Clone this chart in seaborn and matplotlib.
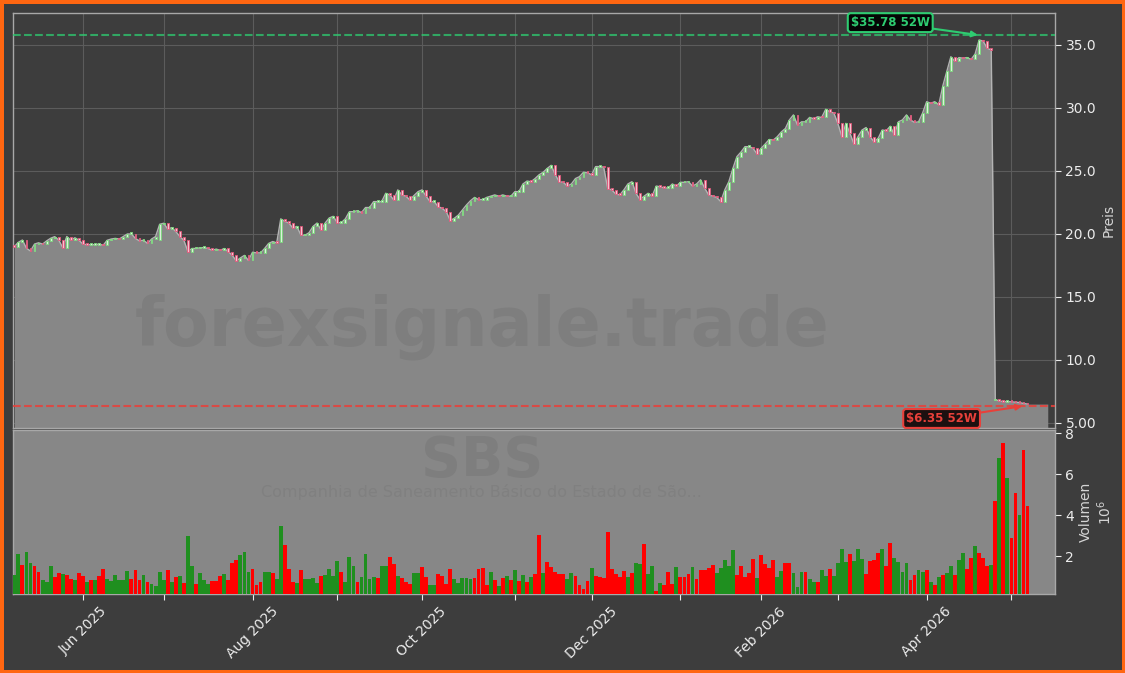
import numpy as np
import pandas as pd
import matplotlib
matplotlib.use("Agg")
import matplotlib.pyplot as plt
import seaborn as sns

# ── Chart text ───────────────────────────────────────────────────────────────
TICKER    = "SBS"
COMPANY   = "Companhia de Saneamento Básico do Estado de São..."
WATERMARK = "forexsignale.trade"

# ── Trading calendar (NYSE days, May 2025 – May 2026) ────────────────────────
START, END = "2025-05-07", "2026-05-07"
HOLIDAYS = ["2025-05-26", "2025-06-19", "2025-07-04", "2025-09-01", "2025-11-27",
            "2025-12-25", "2026-01-01", "2026-01-19", "2026-02-16", "2026-04-03"]

# ── Daily prices (USD) ───────────────────────────────────────────────────────
close = [
    19.0, 19.34, 19.52, 18.87, 18.65, 19.2, 19.3, 19.2, 19.45, 19.66,
    19.79, 19.52, 18.91, 19.8, 19.5, 19.7, 19.5, 19.2, 19.15, 19.15,
    19.15, 19.2, 19.1, 19.5, 19.6, 19.65, 19.6, 19.8, 20.0, 20.0,
    19.65, 19.45, 19.5, 19.25, 19.6, 19.8, 20.77, 20.85, 20.4, 20.5,
    20.2, 19.8, 19.5, 18.6, 18.85, 18.85, 18.9, 18.92, 18.85, 18.7,
    18.8, 18.7, 18.85, 18.6, 18.3, 17.86, 18.1, 18.3, 17.9, 18.55,
    18.5, 18.5, 18.85, 19.25, 19.4, 19.3, 21.2, 21.0, 20.87, 20.47,
    20.6, 19.9, 19.9, 20.1, 20.6, 20.87, 20.3, 20.87, 21.27, 21.4,
    20.9, 20.9, 21.2, 21.77, 21.77, 21.85, 21.7, 22.1, 22.1, 22.57,
    22.57, 22.57, 23.23, 23.1, 22.7, 23.5, 23.1, 23.0, 22.7, 23.05,
    23.36, 23.5, 23.0, 22.57, 22.57, 22.17, 22.03, 21.77, 21.06, 21.25,
    21.5, 21.9, 22.3, 22.64, 22.9, 22.73, 22.73, 22.9, 23.0, 23.1,
    23.0, 23.1, 23.0, 23.0, 23.36, 23.36, 23.97, 24.2, 24.15, 24.4,
    24.7, 24.9, 25.2, 25.45, 24.7, 24.15, 24.1, 23.8, 23.97, 24.4,
    24.55, 24.9, 24.85, 24.7, 25.35, 25.35, 25.3, 23.6, 23.5, 23.17,
    23.1, 23.5, 23.97, 24.15, 23.23, 22.73, 23.0, 23.23, 23.0, 23.8,
    23.75, 23.65, 23.65, 23.97, 23.8, 24.1, 24.1, 24.15, 23.8, 23.97,
    24.3, 23.65, 23.1, 23.0, 22.9, 22.57, 23.5, 24.15, 25.2, 26.14,
    26.5, 26.93, 26.93, 26.8, 26.35, 26.8, 27.14, 27.5, 27.45, 27.72,
    28.1, 28.37, 29.05, 29.45, 28.65, 28.9, 28.9, 29.25, 29.15, 29.3,
    29.25, 29.9, 29.7, 29.6, 28.78, 27.72, 28.78, 27.99, 27.14, 27.72,
    28.25, 28.45, 27.72, 27.3, 27.6, 28.25, 28.2, 28.55, 27.86, 28.9,
    29.05, 29.45, 29.05, 28.85, 28.9, 29.6, 30.5, 30.37, 30.5, 30.25,
    31.75, 32.9, 34.07, 33.7, 34.0, 33.95, 34.0, 33.85, 34.28, 35.4,
    35.3, 34.74, 34.6, 6.85, 6.75, 6.7, 6.7, 6.68, 6.65, 6.62,
    6.55, 6.5,
]
open_ = [
    19.1, 19.0, 19.34, 19.52, 18.87, 18.65, 19.2, 19.3, 19.2, 19.45,
    19.66, 19.79, 19.52, 18.91, 19.8, 19.5, 19.7, 19.5, 19.2, 19.15,
    19.15, 19.15, 19.2, 19.1, 19.5, 19.6, 19.65, 19.6, 19.8, 20.0,
    20.0, 19.65, 19.45, 19.5, 19.25, 19.6, 19.5, 20.77, 20.85, 20.4,
    20.5, 20.2, 19.8, 19.5, 18.6, 18.85, 18.85, 18.9, 18.92, 18.85,
    18.7, 18.8, 18.7, 18.85, 18.6, 18.3, 17.86, 18.1, 18.3, 17.9,
    18.55, 18.5, 18.5, 18.85, 19.25, 19.4, 19.4, 21.2, 21.0, 20.87,
    20.47, 20.6, 19.9, 19.9, 20.1, 20.6, 20.87, 20.3, 20.87, 21.27,
    21.4, 20.9, 20.9, 21.2, 21.77, 21.77, 21.85, 21.7, 22.1, 22.1,
    22.57, 22.57, 22.57, 23.23, 23.1, 22.7, 23.5, 23.1, 23.0, 22.7,
    23.05, 23.36, 23.5, 23.0, 22.57, 22.57, 22.17, 22.03, 21.77, 21.06,
    21.25, 21.5, 21.9, 22.3, 22.64, 22.9, 22.73, 22.73, 22.9, 23.0,
    23.1, 23.0, 23.1, 23.0, 23.0, 23.36, 23.36, 23.97, 24.2, 24.15,
    24.4, 24.7, 24.9, 25.2, 25.45, 24.7, 24.15, 24.1, 23.8, 23.97,
    24.4, 24.55, 24.9, 24.85, 24.7, 25.35, 25.35, 25.3, 23.6, 23.5,
    23.17, 23.1, 23.5, 23.97, 24.15, 23.23, 22.73, 23.0, 23.23, 23.0,
    23.8, 23.75, 23.65, 23.65, 23.97, 23.8, 24.1, 24.1, 24.15, 23.8,
    23.97, 24.3, 23.65, 23.1, 23.0, 22.9, 22.57, 23.5, 24.15, 25.2,
    26.14, 26.5, 26.93, 26.93, 26.8, 26.35, 26.8, 27.14, 27.5, 27.45,
    27.72, 28.1, 28.37, 29.05, 29.45, 28.65, 28.9, 28.9, 29.25, 29.15,
    29.3, 29.25, 29.9, 29.7, 29.6, 28.78, 27.72, 28.78, 27.99, 27.14,
    27.72, 28.25, 28.45, 27.72, 27.3, 27.6, 28.25, 28.2, 28.55, 27.86,
    28.9, 29.05, 29.45, 29.05, 28.85, 28.9, 29.6, 30.5, 30.37, 30.5,
    30.25, 31.75, 32.9, 34.07, 33.7, 34.0, 33.95, 34.0, 33.85, 34.28,
    35.4, 35.3, 34.74, 6.8, 6.85, 6.75, 6.7, 6.7, 6.68, 6.65,
    6.62, 6.55,
]

# ── Daily volume (millions of shares) and bar colour (G = up, R = down) ──────
volume_m = [
    1.07, 2.1, 1.56, 2.18, 1.66, 1.51, 1.23, 0.83, 0.75, 1.51,
    0.99, 1.15, 1.12, 1.07, 0.9, 0.85, 1.15, 1.02, 0.75, 0.83,
    0.85, 1.02, 1.37, 0.9, 0.77, 1.07, 0.83, 0.83, 1.28, 0.9,
    1.33, 0.85, 1.07, 0.72, 0.64, 0.56, 1.2, 0.85, 1.33, 0.72,
    0.98, 1.02, 0.67, 2.98, 1.51, 0.64, 1.15, 0.85, 0.64, 0.77,
    0.77, 1.02, 1.12, 0.85, 1.67, 1.8, 2.05, 2.18, 1.2, 1.37,
    0.59, 0.72, 1.2, 1.2, 1.15, 0.9, 3.46, 2.54, 1.37, 0.72,
    0.67, 1.33, 0.87, 0.87, 0.92, 0.67, 1.02, 1.07, 1.37, 1.02,
    1.75, 1.2, 0.72, 1.95, 1.51, 0.72, 0.98, 2.1, 0.9, 0.98,
    0.92, 1.51, 1.51, 1.95, 1.61, 1.02, 0.92, 0.72, 0.64, 1.17,
    1.17, 1.46, 0.98, 0.59, 0.59, 1.12, 1.02, 0.64, 1.37, 0.87,
    0.69, 0.92, 0.92, 0.87, 0.92, 1.37, 1.43, 0.59, 1.22, 0.83,
    0.54, 0.92, 1.02, 0.83, 1.33, 0.77, 1.07, 0.72, 0.98, 1.12,
    3.02, 1.17, 1.7, 1.46, 1.23, 1.12, 1.12, 0.87, 1.17, 1.02,
    0.59, 0.4, 0.77, 1.43, 1.02, 0.98, 0.95, 3.17, 1.37, 1.12,
    0.98, 1.28, 0.98, 1.17, 1.66, 1.61, 2.59, 1.12, 1.51, 0.3,
    0.69, 0.59, 1.22, 0.64, 1.46, 0.98, 0.98, 1.12, 1.46, 0.87,
    1.33, 1.33, 1.43, 1.56, 1.17, 1.43, 1.8, 1.51, 2.29, 1.07,
    1.51, 0.98, 1.17, 1.85, 0.92, 2.05, 1.61, 1.43, 1.8, 0.98,
    1.28, 1.66, 1.66, 1.17, 0.49, 1.2, 1.22, 0.87, 0.72, 0.72,
    1.33, 1.02, 1.37, 1.02, 1.66, 2.34, 1.7, 2.1, 1.75, 2.34,
    1.85, 1.12, 1.75, 1.8, 2.15, 2.34, 1.51, 2.63, 1.9, 1.7,
    1.22, 1.66, 0.83, 1.07, 1.33, 1.22, 1.33, 0.72, 0.59, 0.98,
    1.07, 1.17, 1.51, 1.07, 1.8, 2.15, 1.37, 1.9, 2.49, 2.15,
    1.9, 1.51, 1.56, 4.68, 6.78, 7.51, 5.8, 2.88, 5.07, 4.0,
    7.17, 4.44,
]
vol_dir = ("GGRGGRRGGG" "RRGRRGRRGR" "GRRGGGGGGR" "RRGRGGGGRG" "RGRGGRGGGR"
           "RRGRRRGGGR" "RRGGRGGRRR" "GRGGGGRGGG" "GRGGGRGGGG" "RGGRRGRRRG"
           "GRRGGRRRRG" "GGGGRRRRGR" "GRGRGRGRGR" "RGRRRRRGGR" "RRRGRRRRRR"
           "RRGRGGRGGR" "GRRRGRRRGR" "RRRRGGGGGR" "RRRRGRRRRG" "GRRGGGRGGR"
           "GGRGGGGRGG" "GRRRRGRRGG" "GGRRGGRGRG" "RGGRGGRRGR" "RRGRGRGRRG"
           "RR")

# 52-week extremes shown in the labels
HIGH_52W = 35.78
LOW_52W  = 6.35

price_ticks      = [5, 10, 15, 20, 25, 30, 35]
price_ticklabels = ["5.00", "10.0", "15.0", "20.0", "25.0", "30.0", "35.0"]
vol_ticks        = [2, 4, 6, 8]

# ── Style ────────────────────────────────────────────────────────────────────
BG       = "#3d3d3d"
FILL     = "#878787"
GRID     = "#5c5c5c"
TXT      = "#ececec"
UP_GREEN = "#2ecc71"
DN_RED   = "#e8403a"
VOL_UP   = "#1f8f1f"
VOL_DN   = "#ff0000"

sns.set_theme(style="dark", rc={
    "figure.facecolor": BG, "axes.facecolor": BG, "axes.edgecolor": "#a8a8a8",
    "text.color": TXT, "xtick.color": TXT, "ytick.color": TXT,
    "axes.labelcolor": "#d4d4d4", "grid.color": GRID,
})
plt.rcParams["font.family"] = ["DejaVu Sans"]

dates = pd.bdate_range(START, END, freq="C", holidays=HOLIDAYS)
assert len(dates) == len(close) == len(open_) == len(volume_m) == len(vol_dir)
idx = np.arange(len(dates))
df = pd.DataFrame({"i": idx, "open": open_, "close": close, "vol": volume_m,
                   "dir": ["up" if c == "G" else "down" for c in vol_dir]})

fig = plt.figure(figsize=(11.25, 6.73), dpi=100)
fig.patch.set_edgecolor("#ff6611")
fig.patch.set_linewidth(5)
ax  = fig.add_axes([0.0113, 0.364, 0.9265, 0.6171])
axv = fig.add_axes([0.0113, 0.1174, 0.9265, 0.2437], sharex=ax)

# ── Price panel ──────────────────────────────────────────────────────────────
y_bottom, y_top = 4.6, 37.56
fill_pad = 5   # area keeps going a few sessions past the last candle
fill_x = np.append(idx, idx[-1] + fill_pad)
fill_y = np.append(df["close"], df["close"].iloc[-1])
ax.fill_between(fill_x, fill_y, y_bottom, color=FILL, lw=0, zorder=2)
sns.lineplot(data=df, x="i", y="close", ax=ax, color="#b4b4b4", lw=1, zorder=3)

body_lo = df[["open", "close"]].min(axis=1)
body_h  = (df["close"] - df["open"]).abs().clip(lower=0.12)
is_up   = df["close"] >= df["open"]
ax.bar(df["i"][is_up], body_h[is_up], bottom=body_lo[is_up], width=0.45,
       color="#dcefdc", edgecolor="#7ada7b", lw=0.6, zorder=4)
ax.bar(df["i"][~is_up], body_h[~is_up], bottom=body_lo[~is_up], width=0.45,
       color="#f4c4cf", edgecolor="#e2557a", lw=0.6, zorder=4)

ax.axhline(HIGH_52W, color=UP_GREEN, ls="--", lw=1.5, alpha=0.75, zorder=5)
ax.axhline(LOW_52W, color=DN_RED, ls="--", lw=1.5, alpha=0.85, zorder=5)

hi_i = int(np.argmax(df["close"]))
lo_i = len(df) - 2
ax.annotate(f"${HIGH_52W:.2f} 52W", xy=(hi_i, HIGH_52W), xytext=(-64, 9),
            textcoords="offset points", ha="center", va="center",
            fontsize=8.5, fontweight="bold", color=UP_GREEN, zorder=7,
            bbox=dict(boxstyle="round,pad=0.25", fc="#050505", ec=UP_GREEN, lw=1.5),
            arrowprops=dict(arrowstyle="-|>", color=UP_GREEN, lw=1.5,
                            shrinkA=0, shrinkB=1))
ax.annotate(f"${LOW_52W:.2f} 52W", xy=(lo_i, LOW_52W), xytext=(-59, -9),
            textcoords="offset points", ha="center", va="center",
            fontsize=8.5, fontweight="bold", color=DN_RED, zorder=7,
            bbox=dict(boxstyle="round,pad=0.25", fc="#1c1010", ec=DN_RED, lw=1.5),
            arrowprops=dict(arrowstyle="-|>", color=DN_RED, lw=1.5,
                            shrinkA=0, shrinkB=1))

ax.text(0.45, 0.245, WATERMARK, transform=ax.transAxes, ha="center", va="center",
        fontsize=48, fontweight="bold", color="#7e7e7e", zorder=3.5)

ax.set_ylim(y_bottom, y_top)
ax.set_yticks(price_ticks)
ax.set_yticklabels(price_ticklabels)
ax.yaxis.tick_right()
ax.yaxis.set_label_position("right")
ax.set_ylabel("Preis", fontsize=10, labelpad=4)
ax.set_xlabel("")
ax.tick_params(axis="y", length=4, width=0.8, labelsize=10, right=True, left=False)
ax.tick_params(axis="x", length=0, labelbottom=False)
ax.grid(True, color=GRID, lw=0.8)
ax.set_axisbelow(True)

# ── Volume panel ─────────────────────────────────────────────────────────────
axv.set_facecolor(FILL)
sns.barplot(data=df, x="i", y="vol", hue="dir", palette={"up": VOL_UP, "down": VOL_DN},
            native_scale=True, dodge=False, width=0.95, saturation=1, lw=0,
            errorbar=None, legend=False, ax=axv, zorder=3)
axv.text(0.45, 0.81, TICKER, transform=axv.transAxes, ha="center", va="center",
         fontsize=40, fontweight="bold", color="#7e7e7e", zorder=1)
axv.text(0.45, 0.62, COMPANY, transform=axv.transAxes, ha="center", va="center",
         fontsize=11.5, color="#808080", zorder=1)
axv.set_ylim(0.15, 8.15)
axv.set_yticks(vol_ticks)
axv.yaxis.tick_right()
axv.yaxis.set_label_position("right")
axv.set_ylabel("Volumen\n$10^{6}$", fontsize=10, labelpad=3)
axv.set_xlabel("")
axv.tick_params(axis="y", length=4, width=0.8, labelsize=10, right=True, left=False)
axv.grid(False)

months = dates.to_period("M")
starts = np.flatnonzero(months[1:] != months[:-1]) + 1
labels = [d.strftime("%b %Y") if d.month % 2 == 0 else "" for d in dates[starts]]
axv.set_xticks(starts)
axv.set_xticklabels(labels, rotation=45, ha="center", fontsize=10)
axv.tick_params(axis="x", length=4, width=0.8, bottom=True)
axv.set_xlim(-0.4, 257.8)

for a in (ax, axv):
    for s in a.spines.values():
        s.set_color("#a8a8a8")
        s.set_linewidth(1)

fig.savefig("out.png", dpi=100, facecolor=fig.get_facecolor(),
            edgecolor=fig.get_edgecolor())
